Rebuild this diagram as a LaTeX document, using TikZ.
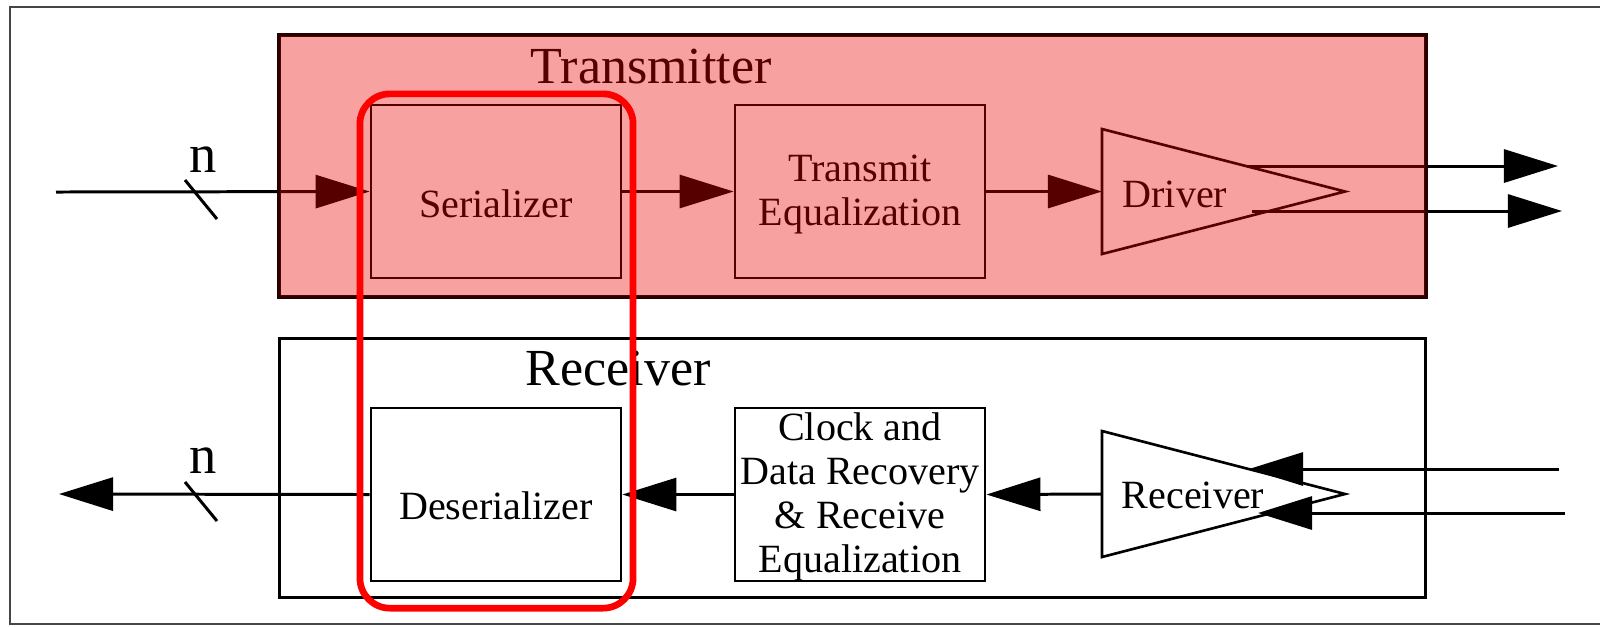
\documentclass[tikz,border=0pt]{standalone}
\usepackage{fontspec}
\setmainfont{Liberation Serif}
\usetikzlibrary{arrows.meta}
\definecolor{txred}{RGB}{235,0,0}
\definecolor{frame}{RGB}{70,70,70}
\begin{document}
\begin{tikzpicture}[x=0.01cm,y=-0.01cm,
  blk/.style={draw, line width=0.75pt, minimum width=2.5cm, minimum height=1.73cm, inner sep=0pt},
  grp/.style={draw, line width=0.85pt, minimum width=11.45cm, inner sep=0pt},
  lbl/.style={inner sep=0pt, align=center, font=\fontsize{11.4}{12.5}\selectfont},
  ttl/.style={inner sep=0pt, font=\fontsize{14.8}{16}\selectfont},
  bus/.style={inner sep=0pt, font=\fontsize{15.5}{17}\selectfont},
  conn/.style={line width=0.85pt},
  arr/.style={conn, -{Triangle[length=0.54cm,width=0.33cm]}},
  amp/.style={line width=0.75pt, line join=miter},
]
\useasboundingbox (0,0) rectangle (1600,626);
\clip (0,0) rectangle (1600,626);
% outer frame
\draw[frame, line width=0.7pt] (10,7) rectangle (1660,624);

% ---------------- Transmitter ----------------
\node[grp, fill=white, minimum height=2.6cm] (tx) at (852.5,166) {};
\node[ttl, anchor=base west] (txt) at (530,83) {Transmitter};
\node[blk] (ser) at (496,191.5) {};
\node[lbl, anchor=base] (serl) at (496,217) {Serializer};
\node[blk] (teq) at (860,191.5) {};
\node[lbl] (teql) at (860,194) {Transmit\\Equalization};
\draw[amp] (1102,129) coordinate (drvT) -- (1345,191.5) coordinate (drvApex) -- (1102,254) coordinate (drvB) -- cycle;
\coordinate (drvIn) at (1102,191.5);
\node[lbl, anchor=base] (drvl) at (1175,207) {Driver};
\coordinate (inL) at (56,192);
\coordinate (drvOA) at (1247,166);
\coordinate (drvOB) at (1252,211);
\coordinate (outA) at (1558,166);
\coordinate (outB) at (1562,211);
\draw[conn] (185,180) -- (217,219);
\node[bus, anchor=base] (n1) at (203,172) {n};
\draw[arr] (inL) -- (ser.west);
\draw[arr] (ser.east) -- (teq.west);
\draw[arr] (teq.east) -- (drvIn);
\draw[arr] (drvOA) -- (outA);
\draw[arr] (drvOB) -- (outB);
% tint overlay of the transmitter area
\fill[txred, opacity=0.37] (tx.north west) rectangle (tx.south east);
\draw[line width=0.85pt, black!85!red] (tx.north west) rectangle (tx.south east);

% ---------------- Receiver ----------------
\node[grp, minimum height=2.58cm] (rx) at (852.5,468) {};
\node[ttl, anchor=base west] (rxt) at (525,385) {Receiver};
\node[blk] (des) at (496,494.5) {};
\node[lbl, anchor=base] (desl) at (496,519) {Deserializer};
\node[blk] (cdr) at (860,494.5) {};
\node[lbl] (cdrl) at (860,497) {Clock and\\Data Recovery\\\& Receive\\Equalization};
\draw[amp] (1102,431) coordinate (rcvT) -- (1345,494) coordinate (rcvApex) -- (1102,557) coordinate (rcvB) -- cycle;
\coordinate (rcvOut) at (1102,494);
\node[lbl, anchor=base] (rcvl) at (1193,508) {Receiver};
\coordinate (rxInA) at (1559,469);
\coordinate (rxInB) at (1565,513);
\coordinate (rcvTipA) at (1249,469);
\coordinate (rcvTipB) at (1258,513);
\coordinate (outL) at (59,494);
\draw[conn] (185,482) -- (217,521);
\node[bus, anchor=base] (n2) at (203,473) {n};
\draw[arr] (rxInA) -- (rcvTipA);
\draw[arr] (rxInB) -- (rcvTipB);
\draw[arr] (rcvOut) -- (cdr.east);
\draw[arr] (cdr.west) -- (des.east);
\draw[arr] (des.west) -- (outL);

% ---------------- highlight ----------------
\node[draw=red, line width=1.9pt, rounded corners=0.3cm, minimum width=2.73cm, minimum height=5.14cm, inner sep=0pt] (hl) at (496.5,351) {};
\end{tikzpicture}
\end{document}
